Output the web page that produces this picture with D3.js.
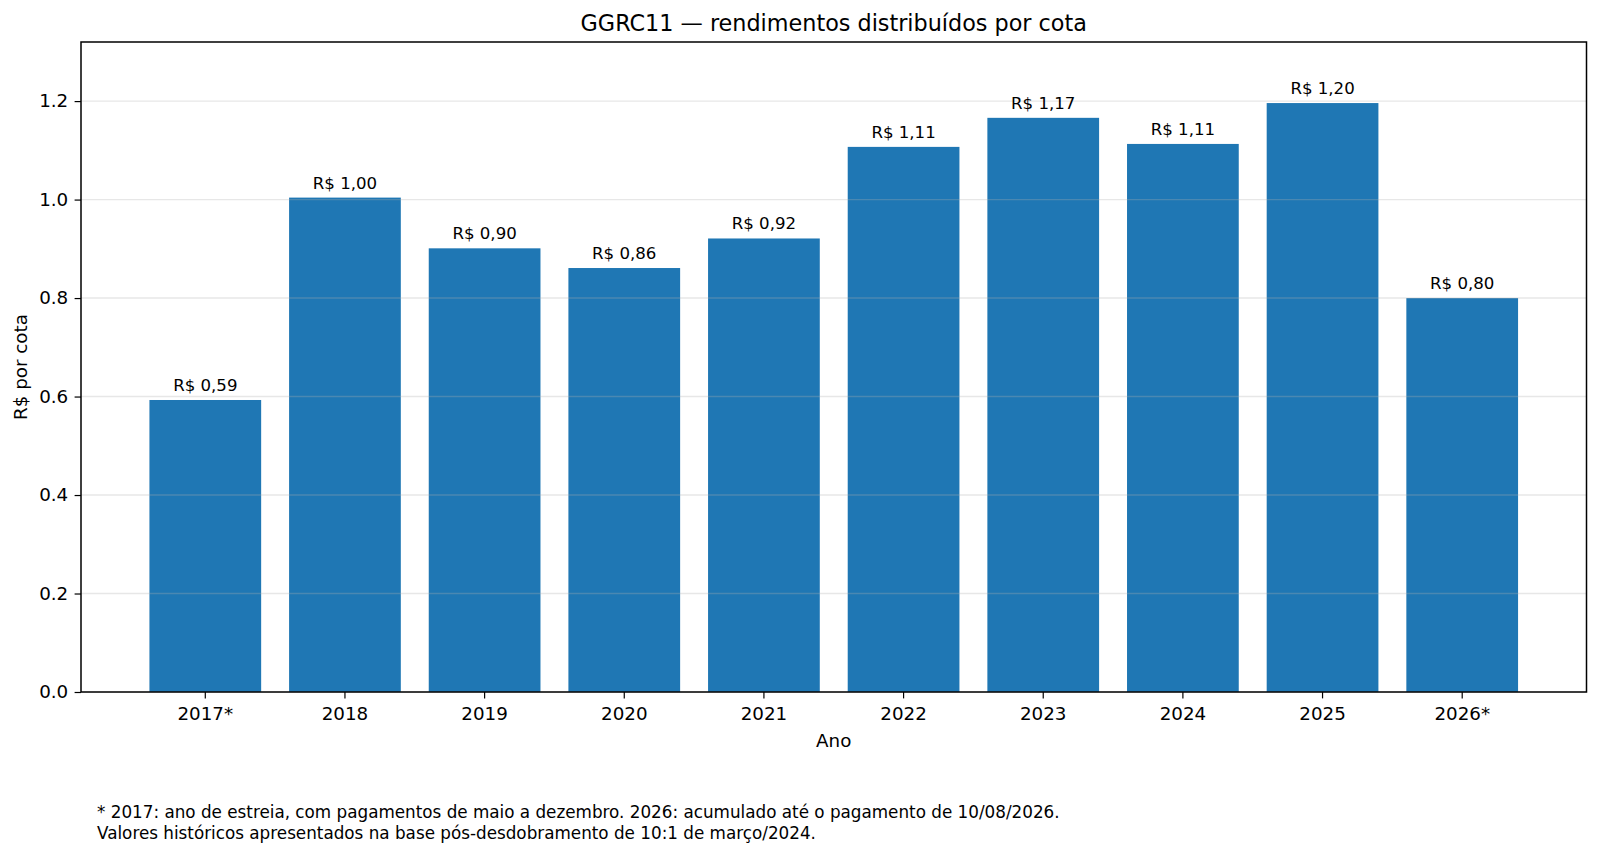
<!DOCTYPE html>
<html>
<head>
<meta charset="utf-8">
<script src="https://cdn.jsdelivr.net/npm/d3@7"></script>
<style>
  html, body { margin: 0; padding: 0; background: #fff; }
  svg { display: block; font-family: "DejaVu Sans", sans-serif; }
</style>
</head>
<body>
<svg id="chart" width="1600" height="856"></svg>
<script>
// data
const years = ['2017*', '2018', '2019', '2020', '2021', '2022', '2023', '2024', '2025', '2026*'];
const payouts = [0.593, 1.004, 0.901, 0.861, 0.921, 1.107, 1.166, 1.113, 1.196, 0.800];
const yTicks = [0, 0.2, 0.4, 0.6, 0.8, 1.0, 1.2];
const footnotes = [
  '* 2017: ano de estreia, com pagamentos de maio a dezembro. 2026: acumulado até o pagamento de 10/08/2026.',
  'Valores históricos apresentados na base pós-desdobramento de 10:1 de março/2024.'
];

const W = 1600, H = 856;
const margin = { top: 42, right: 13.5, bottom: 164, left: 81 };
const barColor = '#1f77b4';

const svg = d3.select('#chart');

const x = d3.scaleBand()
  .domain(years)
  .range([margin.left, W - margin.right])
  .paddingInner(0.2)
  .paddingOuter(0.49);

const y = d3.scaleLinear()
  .domain([0, 1.32])
  .range([H - margin.bottom, margin.top]);

const brl = v => 'R$ ' + d3.format('.2f')(v).replace('.', ',');

// bars
svg.append('g')
  .selectAll('rect')
  .data(years)
  .join('rect')
  .attr('x', d => x(d))
  .attr('y', (d, i) => y(payouts[i]))
  .attr('width', x.bandwidth())
  .attr('height', (d, i) => y(0) - y(payouts[i]))
  .attr('fill', barColor);

// grid on top of the bars, like matplotlib does
svg.append('g')
  .selectAll('line')
  .data(yTicks)
  .join('line')
  .attr('x1', margin.left)
  .attr('x2', W - margin.right)
  .attr('y1', d => y(d))
  .attr('y2', d => y(d))
  .attr('stroke', '#b0b0b0')
  .attr('stroke-opacity', 0.3)
  .attr('stroke-width', 1.4);

// value labels
svg.append('g')
  .selectAll('text')
  .data(years)
  .join('text')
  .attr('x', d => x(d) + x.bandwidth() / 2)
  .attr('y', (d, i) => y(payouts[i]) - 9)
  .attr('text-anchor', 'middle')
  .attr('font-size', 16.6)
  .attr('fill', '#000')
  .text((d, i) => brl(payouts[i]));

// axes
const xAxis = svg.append('g')
  .attr('transform', `translate(0,${y(0)})`)
  .call(d3.axisBottom(x).tickSize(6.4).tickPadding(8.8));

const yAxis = svg.append('g')
  .attr('transform', `translate(${margin.left},0)`)
  .call(d3.axisLeft(y).tickValues(yTicks).tickFormat(d3.format('.1f')).tickSize(6.4).tickPadding(6.4));

[xAxis, yAxis].forEach(g => {
  g.select('.domain').remove();
  g.selectAll('.tick line').attr('stroke', '#000').attr('stroke-width', 1.2);
  g.selectAll('.tick text')
    .attr('fill', '#000')
    .attr('font-size', 18.3)
    .attr('font-family', '"DejaVu Sans", sans-serif');
});

// frame
svg.append('rect')
  .attr('x', margin.left)
  .attr('y', margin.top)
  .attr('width', W - margin.right - margin.left)
  .attr('height', y(0) - margin.top)
  .attr('fill', 'none')
  .attr('stroke', '#000')
  .attr('stroke-width', 1.5);

// title and axis labels
const midX = (margin.left + W - margin.right) / 2;

svg.append('text')
  .attr('x', midX)
  .attr('y', 31)
  .attr('text-anchor', 'middle')
  .attr('font-size', 22.3)
  .text('GGRC11 — rendimentos distribuídos por cota');

svg.append('text')
  .attr('x', midX)
  .attr('y', 747)
  .attr('text-anchor', 'middle')
  .attr('font-size', 18.3)
  .text('Ano');

svg.append('text')
  .attr('transform', `translate(27,${(margin.top + y(0)) / 2}) rotate(-90)`)
  .attr('text-anchor', 'middle')
  .attr('font-size', 18.3)
  .text('R$ por cota');

// footnote
svg.append('g')
  .selectAll('text')
  .data(footnotes)
  .join('text')
  .attr('x', 97)
  .attr('y', (d, i) => 818 + i * 20.5)
  .attr('font-size', 16.8)
  .text(d => d);
</script>
</body>
</html>
